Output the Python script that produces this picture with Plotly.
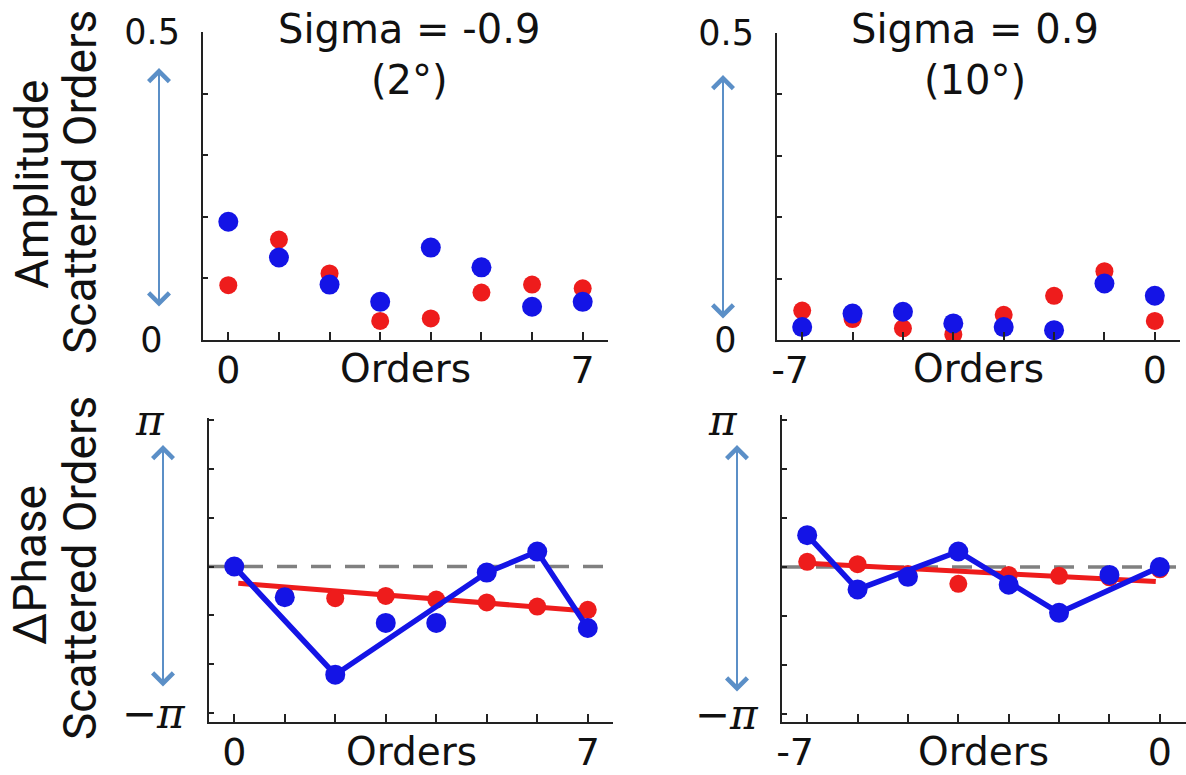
import math
import plotly.graph_objects as go

# ---------------- data ----------------
orders_left = [0, 1, 2, 3, 4, 5, 6, 7]
orders_right = [-7, -6, -5, -4, -3, -2, -1, 0]

amp_left_red = [0.089, 0.163, 0.108, 0.031, 0.035, 0.077, 0.090, 0.084]
amp_left_blue = [0.192, 0.134, 0.090, 0.062, 0.150, 0.118, 0.054, 0.062]
amp_right_red = [0.048, 0.034, 0.019, 0.009, 0.041, 0.072, 0.112, 0.031]
amp_right_blue = [0.021, 0.043, 0.046, 0.027, 0.021, 0.016, 0.092, 0.072]

phase_left_red = [0.00, -0.62, -0.68, -0.63, -0.71, -0.77, -0.86, -0.93]
phase_left_blue = [0.00, -0.66, -2.32, -1.21, -1.21, -0.13, 0.32, -1.32]
phase_right_red = [0.11, 0.06, -0.15, -0.36, -0.17, -0.19, -0.22, -0.05]
phase_right_blue = [0.68, -0.48, -0.21, 0.33, -0.38, -0.98, -0.17, 0.00]

# orders joined by the blue polyline
path_left_orders = [0, 2, 5, 6, 7]
path_right_orders = [-7, -6, -4, -2, 0]

# red linear fit end points
fit_left_x = [0.08, 7.05]
fit_left_y = [-0.36, -0.96]
fit_right_x = [-7.0, -0.08]
fit_right_y = [0.08, -0.31]

titles_left = ["Sigma = -0.9", "(2°)"]
titles_right = ["Sigma = 0.9", "(10°)"]
amp_ticks = [0, 0.1, 0.2, 0.3, 0.4, 0.5]
phase_ticks = [-math.pi, -2 * math.pi / 3, -math.pi / 3, 0, math.pi / 3, 2 * math.pi / 3, math.pi]

# ---------------- styling ----------------
W, H = 1186, 775
RED = "#ee1c1c"
BLUE = "#1414e6"
ARROW = "#5b8fc7"
AXC = "#222222"
SANS = "DejaVu Sans"


def px_x(p):
    return p / W


def px_y(p):
    return 1 - p / H


fig = go.Figure()


def pick(orders, values, sel):
    return [values[orders.index(o)] for o in sel]


# top-left amplitude
fig.add_trace(go.Scatter(x=orders_left, y=amp_left_red, mode="markers",
                         marker=dict(color=RED, size=18), xaxis="x", yaxis="y"))
fig.add_trace(go.Scatter(x=orders_left, y=amp_left_blue, mode="markers",
                         marker=dict(color=BLUE, size=20), xaxis="x", yaxis="y"))
# top-right amplitude
fig.add_trace(go.Scatter(x=orders_right, y=amp_right_red, mode="markers",
                         marker=dict(color=RED, size=18), xaxis="x2", yaxis="y2"))
fig.add_trace(go.Scatter(x=orders_right, y=amp_right_blue, mode="markers",
                         marker=dict(color=BLUE, size=20), xaxis="x2", yaxis="y2"))
# bottom-left phase
fig.add_trace(go.Scatter(x=fit_left_x, y=fit_left_y, mode="lines",
                         line=dict(color=RED, width=5), xaxis="x3", yaxis="y3"))
fig.add_trace(go.Scatter(x=orders_left, y=phase_left_red, mode="markers",
                         marker=dict(color=RED, size=18), xaxis="x3", yaxis="y3"))
fig.add_trace(go.Scatter(x=path_left_orders,
                         y=pick(orders_left, phase_left_blue, path_left_orders),
                         mode="lines", line=dict(color=BLUE, width=5.5),
                         xaxis="x3", yaxis="y3"))
fig.add_trace(go.Scatter(x=orders_left, y=phase_left_blue, mode="markers",
                         marker=dict(color=BLUE, size=20), xaxis="x3", yaxis="y3"))
# bottom-right phase
fig.add_trace(go.Scatter(x=fit_right_x, y=fit_right_y, mode="lines",
                         line=dict(color=RED, width=5), xaxis="x4", yaxis="y4"))
fig.add_trace(go.Scatter(x=orders_right, y=phase_right_red, mode="markers",
                         marker=dict(color=RED, size=18), xaxis="x4", yaxis="y4"))
fig.add_trace(go.Scatter(x=path_right_orders,
                         y=pick(orders_right, phase_right_blue, path_right_orders),
                         mode="lines", line=dict(color=BLUE, width=5.5),
                         xaxis="x4", yaxis="y4"))
fig.add_trace(go.Scatter(x=orders_right, y=phase_right_blue, mode="markers",
                         marker=dict(color=BLUE, size=20), xaxis="x4", yaxis="y4"))

common_x = dict(showline=True, linecolor=AXC, linewidth=2, showgrid=False,
                zeroline=False, ticks="inside", ticklen=8, tickwidth=1.5,
                tickcolor=AXC, tickfont=dict(family=SANS, size=38, color="#111"),
                ticklabelstandoff=-5, fixedrange=True, automargin=False)
common_y = dict(showline=True, linecolor=AXC, linewidth=2, showgrid=False,
                zeroline=False, ticks="inside", ticklen=5, tickwidth=1.5,
                tickcolor=AXC, ticklabelstandoff=14, fixedrange=True, automargin=False)

amp_text = ["0\u2002", "", "", "", "", "0.5"]
phase_text = ["<i>\u2212\u03c0</i>", "", "", "", "", "", "<i>\u03c0</i>\u2002"]

fig.update_layout(
    width=W, height=H, margin=dict(l=0, r=0, t=0, b=0, autoexpand=False),
    paper_bgcolor="white", plot_bgcolor="white", showlegend=False,
    xaxis=dict(common_x, domain=[px_x(203), px_x(608)], range=[-0.5, 7.5],
               tickvals=orders_left, ticktext=["0", "", "", "", "", "", "", "7"],
               anchor="y"),
    yaxis=dict(common_y, domain=[px_y(340), px_y(32)], range=[0, 0.5],
               tickvals=amp_ticks, ticktext=amp_text,
               tickfont=dict(family=SANS, size=35, color="#111"), anchor="x"),
    xaxis2=dict(common_x, domain=[px_x(777), px_x(1180)], range=[-7.5, 0.5],
                tickvals=orders_right,
                ticktext=["-7\u2007", "", "", "", "", "", "", "0"], anchor="y2"),
    yaxis2=dict(common_y, domain=[px_y(340), px_y(33)], range=[0, 0.5],
                tickvals=amp_ticks, ticktext=amp_text,
                tickfont=dict(family=SANS, size=35, color="#111"), anchor="x2"),
    xaxis3=dict(common_x, domain=[px_x(209), px_x(613)], range=[-0.5, 7.5],
                tickvals=orders_left, ticktext=["0", "", "", "", "", "", "", "7"],
                anchor="y3"),
    yaxis3=dict(common_y, domain=[px_y(722), px_y(418)], range=[-3.335, 3.185],
                tickvals=phase_ticks, ticktext=phase_text,
                tickfont=dict(family="DejaVu Serif", size=42, color="#111"),
                anchor="x3"),
    xaxis4=dict(common_x, domain=[px_x(782), 1.0], range=[-7.5, 0.52],
                tickvals=orders_right,
                ticktext=["-7\u2007", "", "", "", "", "", "", "0"], anchor="y4"),
    yaxis4=dict(common_y, domain=[px_y(722), px_y(415)], range=[-3.313, 3.248],
                tickvals=phase_ticks, ticktext=phase_text,
                tickfont=dict(family="DejaVu Serif", size=42, color="#111"),
                anchor="x4"),
)

# dashed zero reference lines
for xa, ya in (("x3", "y3"), ("x4", "y4")):
    fig.add_shape(type="line", xref=f"{xa} domain", yref=ya, x0=0, x1=1, y0=0, y1=0,
                  line=dict(color="#808080", width=3.5, dash="20px,14px"), layer="below")

ann = []
# panel titles
for (l1, l2), cx in ((titles_left, 409), (titles_right, 975)):
    ann.append(dict(text=l1, x=px_x(cx), y=px_y(29), xref="paper", yref="paper",
                    showarrow=False, xanchor="center", yanchor="middle",
                    font=dict(family=SANS, size=40, color="#111")))
    ann.append(dict(text=l2, x=px_x(cx), y=px_y(80), xref="paper", yref="paper",
                    showarrow=False, xanchor="center", yanchor="middle",
                    font=dict(family=SANS, size=40, color="#111")))

# "Orders" labels
for xa, ya, xc, yp in (("x", "y", 3.5, 369), ("x2", "y2", -3.5, 369),
                       ("x3", "y3", 3.5, 751), ("x4", "y4", -3.5, 751)):
    ann.append(dict(text="Orders", x=xc, xref=xa, y=px_y(yp), yref="paper",
                    showarrow=False, xanchor="center", yanchor="middle",
                    font=dict(family=SANS, size=39, color="#111")))

# row labels (rotated)
LBL = "Liberation Sans Narrow, Roboto, sans-serif"
for text, cx, cy in (("Amplitude", 32, 185), ("Scattered Orders", 80, 182),
                     ("\u0394Phase", 30, 565), ("Scattered Orders", 80, 568)):
    ann.append(dict(text=text, x=px_x(cx), y=px_y(cy), xref="paper", yref="paper",
                    showarrow=False, textangle=-90, xanchor="center", yanchor="middle",
                    font=dict(family=LBL, size=46, color="#111")))

# double-headed arrows
for cx, top, bot in ((159, 68, 308), (723, 75, 320), (163, 445, 688), (737, 445, 693)):
    ann.append(dict(text="", x=px_x(cx), y=px_y(top), xref="paper", yref="paper",
                    ax=0, ay=bot - top, axref="pixel", ayref="pixel",
                    showarrow=True, arrowhead=4, startarrowhead=4,
                    arrowside="end+start", arrowwidth=2, arrowsize=2.0,
                    startarrowsize=2.0, arrowcolor=ARROW, standoff=0, startstandoff=0))

fig.update_layout(annotations=ann)
fig.write_html("out.html", config={"displayModeBar": False},
               post_script="document.body.style.margin='0';document.body.style.overflow='hidden';")
